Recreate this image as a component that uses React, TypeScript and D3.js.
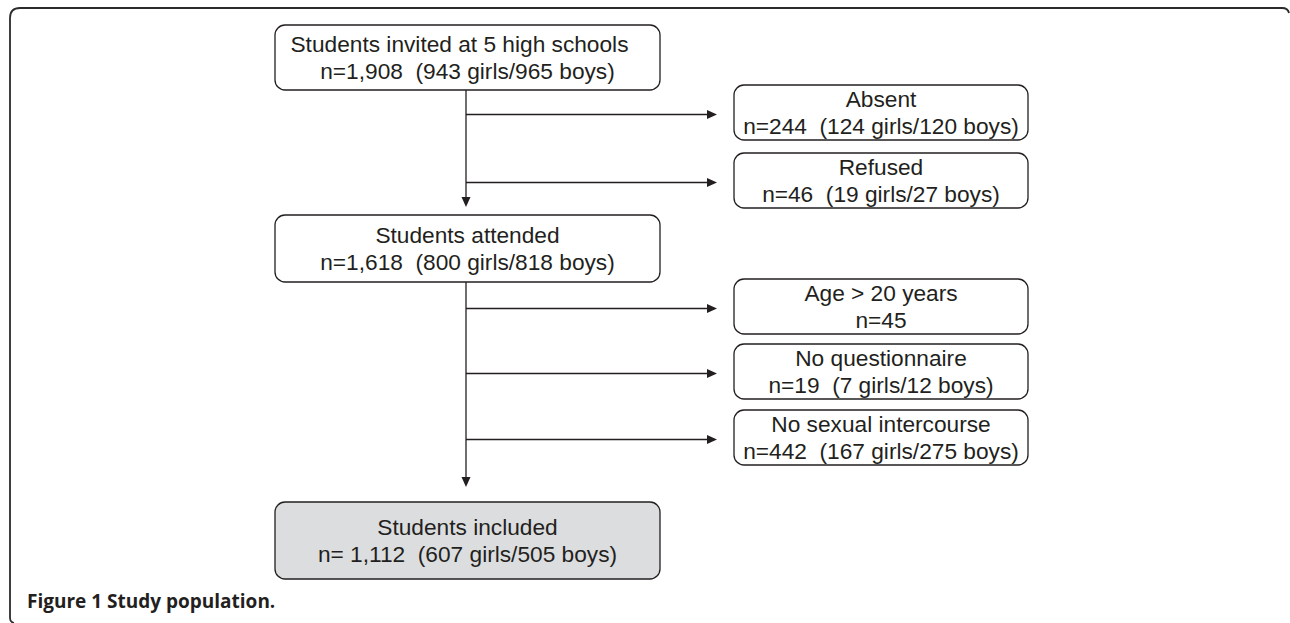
import React from "react";
import * as d3 from "d3";

// flow data
const mainTitles = ["Students invited at 5 high schools", "Students attended", "Students included"];
const mainCounts = [
  "n=1,908  (943 girls/965 boys)",
  "n=1,618  (800 girls/818 boys)",
  "n= 1,112  (607 girls/505 boys)",
];
const exclusionTitles = ["Absent", "Refused", "Age > 20 years", "No questionnaire", "No sexual intercourse"];
const exclusionCounts = [
  "n=244  (124 girls/120 boys)",
  "n=46  (19 girls/27 boys)",
  "n=45",
  "n=19  (7 girls/12 boys)",
  "n=442  (167 girls/275 boys)",
];
const captionLabel = "Figure 1";
const captionText = "Study population.";

// layout
const W = 1290;
const H = 623;
const mainX = 275;
const mainW = 385;
const mainTops = [25, 215, 502];
const mainHeights = [65, 67, 77];
const mainTitleDx = [-8, 0, 0];
const arrowTips = [207, 487];
const exX = 734;
const exW = 294;
const exTops = [85, 153, 279, 344, 410];
const exH = 55;
const trunkX = 466;
const ink = "#231f20";
const font = "'Liberation Sans', Arial, sans-serif";

const line = d3.line<[number, number]>();

const Box = ({ x, y, w, h, title, count, fill, titleDx = 0 }) => {
  const cx = x + w / 2;
  const cy = y + h / 2;
  return (
    <g>
      <rect x={x} y={y} width={w} height={h} rx={10} ry={10} fill={fill} stroke={ink} strokeWidth={1.3} />
      <text x={cx + titleDx} y={cy - 5.5} textAnchor="middle" fontSize={22.7} fontFamily={font} fill={ink} style={{ whiteSpace: "pre" }}>
        {title}
      </text>
      <text x={cx} y={cy + 21} textAnchor="middle" fontSize={22.7} fontFamily={font} fill={ink} style={{ whiteSpace: "pre" }}>
        {count}
      </text>
    </g>
  );
};

const Arrow = ({ x1, y1, x2, y2 }) => {
  const horizontal = y1 === y2;
  const len = 10;
  const hw = 4.5;
  const head: [number, number][] = horizontal
    ? [[x2, y2], [x2 - len, y2 - hw], [x2 - len, y2 + hw]]
    : [[x2, y2], [x2 - hw, y2 - len], [x2 + hw, y2 - len]];
  const shaft: [number, number][] = horizontal
    ? [[x1, y1], [x2 - len + 1, y2]]
    : [[x1, y1], [x2, y2 - len + 1]];
  return (
    <g>
      <path d={line(shaft)} stroke={ink} strokeWidth={1.3} fill="none" />
      <path d={line(head) + "Z"} fill={ink} />
    </g>
  );
};

export default function App() {
  return (
    <svg width={W} height={H} style={{ position: "absolute", left: 0, top: 0, background: "#fff" }}>
      <path
        d={`M 10 618 Q 10 622 14 623 M 10 618 L 10 18 Q 10 8 20 8 L 1282 8 Q 1288 8 1289 13`}
        fill="none"
        stroke="#2b2b2b"
        strokeWidth={1.8}
      />
      {/* trunk */}
      {arrowTips.map((tip, i) => (
        <Arrow key={"t" + i} x1={trunkX} y1={mainTops[i] + mainHeights[i]} x2={trunkX} y2={tip} />
      ))}
      {/* branches */}
      {exclusionTitles.map((_, i) => {
        const y = exTops[i] + exH / 2 + 2;
        return <Arrow key={"b" + i} x1={trunkX} y1={y} x2={717} y2={y} />;
      })}
      {mainTitles.map((t, i) => (
        <Box
          key={"m" + i}
          x={mainX}
          y={mainTops[i]}
          w={mainW}
          h={mainHeights[i]}
          title={t}
          count={mainCounts[i]}
          titleDx={mainTitleDx[i]}
          fill={i === mainTitles.length - 1 ? "#dcdddf" : "#fff"}
        />
      ))}
      {exclusionTitles.map((t, i) => (
        <Box key={"e" + i} x={exX} y={exTops[i]} w={exW} h={exH} title={t} count={exclusionCounts[i]} fill="#fff" />
      ))}
      <text x={27} y={608} fontSize={19} fontWeight="bold" fontFamily="'Open Sans', sans-serif" fill={ink} style={{ whiteSpace: "pre" }}>
        {captionLabel + " " + captionText}
      </text>
    </svg>
  );
}
